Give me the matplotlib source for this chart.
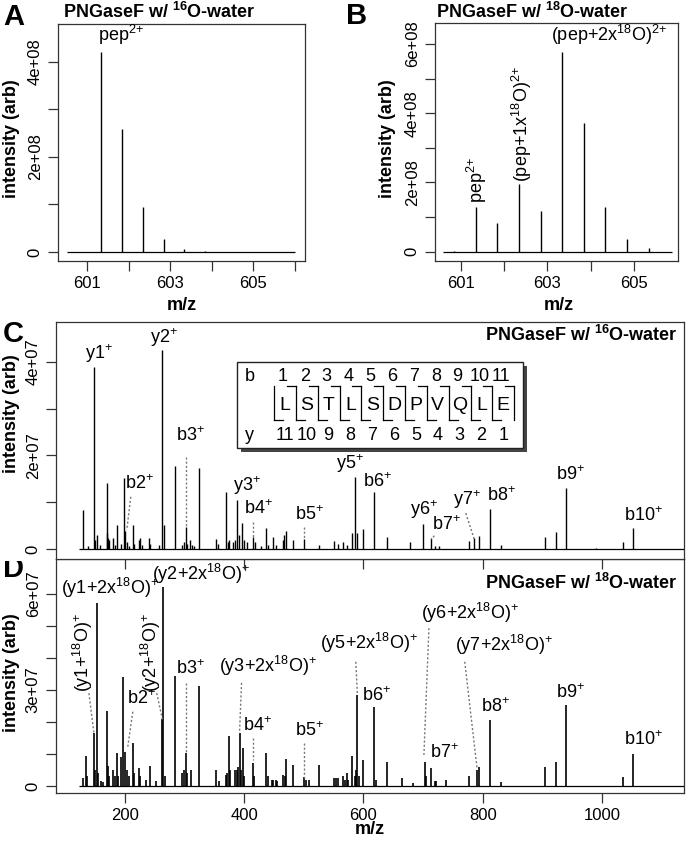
import numpy as np
import matplotlib
matplotlib.use('Agg')
import matplotlib.pyplot as plt
from matplotlib.patches import Rectangle
from matplotlib.transforms import Bbox, TransformedBbox

plt.rcParams['font.family'] = ['Liberation Sans', 'DejaVu Sans']
plt.rcParams['mathtext.fontset'] = 'custom'
plt.rcParams['mathtext.rm'] = 'Liberation Sans'
plt.rcParams['mathtext.it'] = 'Liberation Sans:italic'
plt.rcParams['mathtext.bf'] = 'Liberation Sans:bold'

# ---------------- data ----------------
# panel A : precursor, 16O water
a_mz = [600.84, 601.34, 601.84, 602.34, 602.84, 603.34, 603.84]
a_int = [0.01e8, 4.22e8, 2.58e8, 0.95e8, 0.27e8, 0.07e8, 0.015e8]
a_range = [600.51, 606.0]

# panel B : precursor, 18O water
b_mz = [600.84, 601.34, 601.84, 602.34, 602.84, 603.34, 603.84, 604.34, 604.84, 605.34]
b_int = [0.005e8, 1.28e8, 0.84e8, 1.95e8, 1.18e8, 5.78e8, 3.71e8, 1.28e8, 0.38e8, 0.12e8]
b_range = [600.58, 605.88]

# panel C : MS/MS, 16O water (intensity in 1e7)
c_mz = [130.3, 138, 148.7, 150.5, 153, 158, 169.4, 170.5, 172, 173.5, 181, 184, 187.1, 194,
        197.8, 201.1, 203, 207, 213.9, 216, 223, 226, 229, 240, 242, 258, 262.4, 266.3,
        283.6, 296, 300, 302, 304, 310, 313, 316, 324.3, 353.3, 356, 370, 373, 375, 381,
        385, 387.8, 392, 396.8, 400, 405, 414.6, 418, 428, 437, 440, 449, 453, 465, 467.5,
        470.2, 482.6, 501, 526, 551, 558, 566, 572, 581.6, 586.1, 590, 599.5, 617.9, 640.2,
        678, 699.8, 713.7, 720, 727, 776.8, 786.3, 793.5, 813, 830, 903.8, 922.8, 940.1,
        990, 1034.8, 1052.7]
c_int = [0.84, 0.08, 3.89, 0.2, 0.3, 0.1, 1.42, 0.35, 0.25, 0.2, 0.25, 0.1, 0.52, 0.12,
         1.51, 0.4, 0.15, 0.08, 0.52, 0.12, 0.2, 0.25, 0.1, 0.25, 0.12, 0.1, 4.25, 0.51,
         1.78, 0.1, 0.15, 0.48, 0.12, 0.2, 0.1, 0.08, 1.73, 0.22, 0.12, 1.23, 0.15, 0.2, 0.15,
         0.2, 1.05, 0.3, 0.55, 0.2, 0.15, 0.27, 0.15, 0.08, 0.45, 0.1, 0.26, 0.1, 0.2, 0.3,
         0.38, 0.2, 0.23, 0.1, 0.18, 0.12, 0.15, 0.1, 0.34, 1.55, 0.35, 0.43, 1.23, 0.26,
         0.15, 0.53, 0.25, 0.08, 0.07, 0.18, 0.25, 0.28, 0.85, 0.1, 0.26, 0.36, 1.30,
         0.03, 0.15, 0.45]

# panel D : MS/MS, 18O water (intensity in 1e7)
d_mz = [130.3, 134.8, 137, 148.2, 150.5, 152.7, 154.5, 160, 163, 169.4, 171.5, 173.5, 181,
        183, 187.1, 189, 194, 197.2, 201.1, 203, 207, 213.9, 216, 223.5, 226, 236, 241.8,
        252, 263, 264.7, 267, 283.6, 296, 300, 302, 304, 311.5, 324.3, 353.3, 357.5, 370,
        372, 374.4, 377, 385, 387.8, 389.5, 392.3, 395, 397.8, 400, 414.6, 417, 437, 440,
        447, 449, 453, 456, 465, 468, 470.2, 482.6, 501, 504, 509, 526, 551, 554, 558, 566,
        569, 572, 575, 581.6, 586, 588, 590, 593, 599.5, 617.9, 621, 640.2, 665, 683, 703.2,
        705, 713.7, 720, 722, 738, 776.8, 790.7, 794.6, 811.9, 830, 903.8, 922.8, 940.1,
        1034.8, 1052.7]
d_int = [0.25, 0.94, 0.3, 1.65, 0.5, 5.73, 0.4, 0.15, 0.12, 2.35, 0.62, 0.3, 0.5,
         0.3, 1.02, 0.3, 0.9, 3.40, 1.07, 0.5, 0.3, 1.35, 0.4, 0.55, 0.3, 0.2, 0.63,
         0.15, 2.08, 6.21, 0.3, 3.44, 0.4, 0.5, 1.04, 0.4, 0.5, 3.13, 0.5, 0.15, 0.35,
         0.4, 1.56, 0.5, 0.5, 0.5, 0.6, 1.65, 0.5, 1.18, 0.3, 0.71, 0.3, 1.04, 0.3,
         0.2, 0.2, 0.2, 0.15, 0.35, 0.3, 0.83, 0.67, 0.28, 0.2, 0.2, 0.67, 0.25, 0.25, 0.25, 0.3,
         0.2, 0.4, 0.2, 0.94, 0.3, 0.5, 2.84, 0.3, 0.8, 2.48, 0.2, 0.76, 0.25, 0.1, 0.76,
         0.3, 0.55, 0.15, 0.15, 0.2, 0.3, 0.5, 0.6, 2.06, 0.12, 0.6, 0.76, 2.53,
         0.28, 1.0]
cd_range = [123.6, 1140]

sequence = ['L', 'S', 'T', 'L', 'S', 'D', 'P', 'V', 'Q', 'L', 'E']

# peak labels: text, x, y, rotation, dotted connector (x0, y0, x1, y1)
a_labels = [('pep$^{2{+}}$', 601.81, 4.32e8, 0, None)]
b_labels = [('pep$^{2{+}}$', 601.36, 1.40e8, 90, None),
            ('(pep+1x$^{18}$O)$^{2{+}}$', 602.4, 2.02e8, 90, None),
            ('(pep+2x$^{18}$O)$^{2{+}}$', 604.42, 5.93e8, 0, None)]
c_labels = [('y1$^{+}$', 156, 3.92, 0, None),
            ('y2$^{+}$', 266, 4.27, 0, None),
            ('b2$^{+}$', 225, 1.21, 0, (210, 1.12, 203.3, 0.41)),
            ('b3$^{+}$', 309.5, 2.22, 0, (302, 1.97, 302, 0.5)),
            ('y3$^{+}$', 404, 1.12, 0, None),
            ('b4$^{+}$', 423.6, 0.66, 0, (414.6, 0.59, 414.6, 0.27)),
            ('b5$^{+}$', 509, 0.54, 0, (501, 0.48, 501, 0.23)),
            ('y5$^{+}$', 577.6, 1.58, 0, None),
            ('b6$^{+}$', 623.4, 1.25, 0, None),
            ('y6$^{+}$', 701, 0.61, 0, None),
            ('b7$^{+}$', 739, 0.32, 0, (719, 0.29, 713.7, 0.21)),
            ('y7$^{+}$', 774, 0.82, 0, (771.7, 0.77, 786.3, 0.2)),
            ('b8$^{+}$', 830.8, 0.94, 0, None),
            ('b9$^{+}$', 947.9, 1.39, 0, None),
            ('b10$^{+}$', 1069.4, 0.52, 0, None)]
d_labels = [('(y1+2x$^{18}$O)$^{+}$', 175.7, 5.81, 0, None),
            ('(y1+$^{18}$O)$^{+}$', 130.3, 2.95, 90, (139.8, 2.9, 148.2, 1.65)),
            ('(y2+2x$^{18}$O)$^{+}$', 327, 6.25, 0, None),
            ('(y2+$^{18}$O)$^{+}$', 243, 2.95, 90, (253.5, 2.9, 263, 2.08)),
            ('b3$^{+}$', 309.8, 3.37, 0, (302, 3.22, 302, 1.04)),
            ('b2$^{+}$', 228.4, 2.43, 0, (213.4, 2.32, 205, 1.23)),
            ('(y3+2x$^{18}$O)$^{+}$', 440, 3.37, 0, (395.7, 3.22, 392.3, 1.65)),
            ('b4$^{+}$', 423, 1.59, 0, (414.6, 1.49, 414.6, 0.8)),
            ('b5$^{+}$', 509, 1.44, 0, (501, 1.34, 501, 0.24)),
            ('(y5+2x$^{18}$O)$^{+}$', 609, 4.09, 0, (587.3, 3.88, 590, 2.84)),
            ('b6$^{+}$', 621.8, 2.53, 0, None),
            ('(y6+2x$^{18}$O)$^{+}$', 779.6, 5.03, 0, (709.9, 4.93, 701.5, 0.97)),
            ('(y7+2x$^{18}$O)$^{+}$', 836.4, 4.04, 0, (770, 3.88, 790.6, 0.55)),
            ('b7$^{+}$', 735.5, 0.76, 0, None),
            ('b8$^{+}$', 821.4, 2.19, 0, None),
            ('b9$^{+}$', 947.3, 2.63, 0, None),
            ('b10$^{+}$', 1069.4, 1.15, 0, None)]

# ---------------- layout ----------------
W, H = 688, 842
fig = plt.figure(figsize=(W / 100, H / 100), dpi=100)
SPINE = '#333333'


def rect(x0, y0, x1, y1):
    return [x0 / W, 1 - y1 / H, (x1 - x0) / W, (y1 - y0) / H]


def style(ax, yticks, ylabels, xticks, xlabels=None):
    for s in ax.spines.values():
        s.set_color(SPINE)
        s.set_linewidth(0.9)
    ax.set_yticks(yticks)
    ax.set_yticklabels(ylabels)
    ax.set_xticks(xticks)
    if xlabels is None:
        ax.tick_params(axis='x', labelbottom=False)
    else:
        ax.set_xticklabels(xlabels)
    ax.tick_params(direction='out', length=7, width=0.9, color=SPINE,
                   labelsize=12, pad=4)
    ax.tick_params(axis='y', labelrotation=90)
    for t in ax.get_yticklabels():
        t.set_va('center')


def spectrum(ax, mz, inten, rng, scale, lw=1.0):
    ax.hlines(0, rng[0], rng[1], color='k', lw=0.9)
    ax.vlines(mz, 0, np.array(inten) * scale, color='k', lw=lw)


def put_labels(ax, labels, scale):
    for txt, x, y, rot, conn in labels:
        ax.text(x, y * scale, txt, ha='center', va='bottom', rotation=rot, fontsize=13)
        if conn is not None:
            ax.plot([conn[0], conn[2]], [conn[1] * scale, conn[3] * scale],
                    ls=(0, (1.5, 1.5)), color='#777777', lw=1)


# A
ax_a = fig.add_axes(rect(58, 24, 305, 261))
spectrum(ax_a, a_mz, a_int, a_range, 1)
put_labels(ax_a, a_labels, 1)
ax_a.set_xlim(600.3, 606.24)
ax_a.set_ylim(-0.19e8, 4.8e8)
style(ax_a, [0, 1e8, 2e8, 3e8, 4e8], ['0', '', '2e+08', '', '4e+08'],
      [601, 602, 603, 604, 605, 606], ['601', '', '603', '', '605', ''])

# B
ax_b = fig.add_axes(rect(435, 23, 678, 261))
spectrum(ax_b, b_mz, b_int, b_range, 1)
put_labels(ax_b, b_labels, 1)
ax_b.set_xlim(600.4, 606.02)
ax_b.set_ylim(-0.27e8, 6.61e8)
style(ax_b, [0, 1e8, 2e8, 3e8, 4e8, 5e8, 6e8],
      ['0', '', '2e+08', '', '4e+08', '', '6e+08'],
      [601, 602, 603, 604, 605], ['601', '', '603', '', '605'])

# C
ax_c = fig.add_axes(rect(56, 322, 684, 559))
ax_c.set_zorder(3)
spectrum(ax_c, c_mz, c_int, cd_range, 1e7)
put_labels(ax_c, c_labels, 1e7)
ax_c.set_xlim(84.6, 1137.6)
ax_c.set_ylim(-0.207e7, 4.846e7)
style(ax_c, [0, 1e7, 2e7, 3e7, 4e7], ['0', '', '2e+07', '', '4e+07'],
      [200, 400, 600, 800, 1000])
ax_c.text(0.99, 0.92, r'PNGaseF w/ $^{\mathbf{16}}$O-water', transform=ax_c.transAxes,
          ha='right', va='baseline', fontsize=13, fontweight='bold')

# D
ax_d = fig.add_axes(rect(56, 559, 684, 793))
spectrum(ax_d, d_mz, d_int, cd_range, 1e7, lw=1.2)
put_labels(ax_d, d_labels, 1e7)
ax_d.set_xlim(84.6, 1137.6)
ax_d.set_ylim(-0.219e7, 7.09e7)
style(ax_d, [0, 1e7, 2e7, 3e7, 4e7, 5e7, 6e7],
      ['0', '', '', '3e+07', '', '', '6e+07'],
      [200, 400, 600, 800, 1000], ['200', '400', '600', '800', '1000'])
ax_d.text(0.99, 0.87, r'PNGaseF w/ $^{\mathbf{18}}$O-water', transform=ax_d.transAxes,
          ha='right', va='baseline', fontsize=13, fontweight='bold')

# sequence inset drawn in pixel space
ov = fig.add_axes([0, 0, 1, 1], facecolor='none')
ov.set_zorder(5)
ov.set_xlim(0, W)
ov.set_ylim(H, 0)
ov.axis('off')
bx0, by0, bx1, by1 = 237.3, 361.7, 522.7, 448.3
ov.add_patch(Rectangle((bx0 + 4, by0 + 4), bx1 - bx0, by1 - by0, color='#444444', lw=0))
ov.add_patch(Rectangle((bx0, by0), bx1 - bx0, by1 - by0, facecolor='white',
                       edgecolor='#222222', lw=1))
n = len(sequence)
x_first, x_last = 285, 503.3
dx = (x_last - x_first) / (n - 1)
row_b, row_s, row_y = 376.7, 405, 435
ov.text(250, row_b, 'b', ha='center', va='center', fontsize=13)
ov.text(249, row_y, 'y', ha='center', va='center', fontsize=13)
for i, aa in enumerate(sequence):
    x = x_first + i * dx
    ov.text(x, row_s, aa, ha='center', va='center', fontsize=14)
    ov.text(x - 2, row_b, str(i + 1), ha='center', va='center', fontsize=13)
    ov.text(x, row_y, str(n - i), ha='center', va='center', fontsize=13)
top, bot, h = 385.7, 420, 9
for k in range(n + 1):
    c = x_first + (k - 0.5) * dx
    ov.plot([c, c], [top, bot], color='k', lw=0.9)
    if k >= 1:
        ov.plot([c - h, c], [top, top], color='k', lw=0.9)
    if k <= n - 1:
        ov.plot([c, c + h], [bot, bot], color='k', lw=0.9)


# figure level texts (pixel positions)
def ftext(x, y, s, **kw):
    return fig.text(x / W, 1 - y / H, s, **kw)


ftext(63, 18.3, r'PNGaseF w/ $^{\mathbf{16}}$O-water', ha='left', va='baseline',
      fontsize=13, fontweight='bold')
ftext(436, 18.3, r'PNGaseF w/ $^{\mathbf{18}}$O-water', ha='left', va='baseline',
      fontsize=13, fontweight='bold')
for x, y in [(12, 138.5), (387.5, 138.5), (12, 414), (12, 672.5)]:
    ftext(x, y, 'intensity (arb)', rotation=90, ha='center', va='center',
          fontsize=13, fontweight='bold')
for x, y in [(182, 306), (559, 306), (370, 830)]:
    ftext(x, y, 'm/z', ha='center', va='center', fontsize=13, fontweight='bold')
for x, y, s in [(3, 25, 'A'), (346, 24, 'B'), (3, 341.7, 'C')]:
    ftext(x, y, s, ha='left', va='baseline', fontsize=21, fontweight='bold')
td = ftext(3, 577, 'D', ha='left', va='baseline', fontsize=21, fontweight='bold')
td.set_clip_box(TransformedBbox(Bbox([[0, 0], [1, 1 - 561 / H]]), fig.transFigure))
td.set_clip_on(True)

fig.savefig('out.png', dpi=100)
